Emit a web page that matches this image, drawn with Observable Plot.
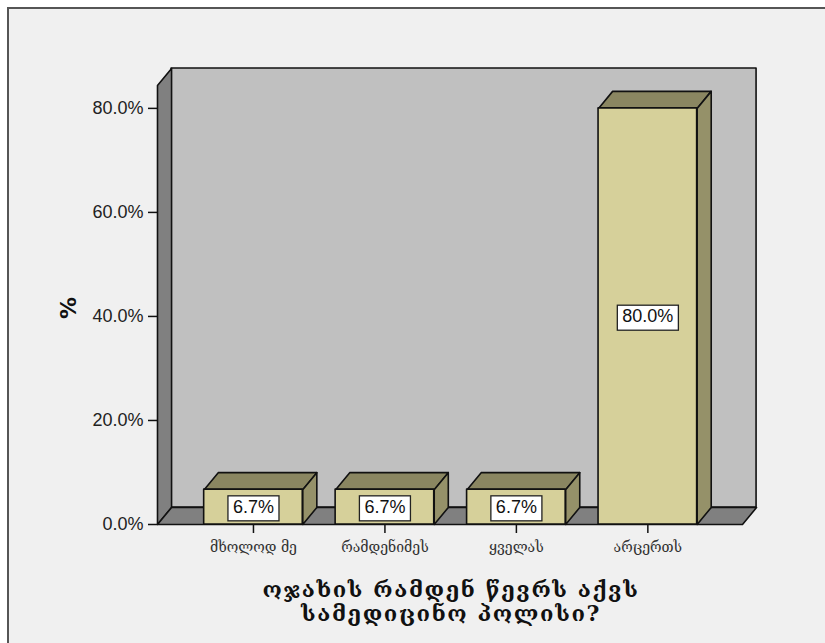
<!DOCTYPE html>
<html>
<head>
<meta charset="utf-8">
<script src="https://cdn.jsdelivr.net/npm/d3@7"></script>
<script src="https://cdn.jsdelivr.net/npm/@observablehq/plot@0.6"></script>
<style>
  html, body { margin: 0; padding: 0; background: #ffffff; }
  #wrap { position: relative; width: 825px; height: 643px; overflow: hidden; }
  #panel { position: absolute; left: 7px; top: 7px; width: 830px; height: 650px;
           background: #f0f0f0; border-left: 2px solid #555; border-top: 2px solid #555; box-sizing: border-box; }
  #chart { position: absolute; left: 0; top: 0; }
  g[aria-description="xtitle"] text { letter-spacing: 1.6px; }
</style>
</head>
<body>
<div id="wrap"><div id="panel"></div><div id="chart"></div></div>
<script>
// ---- data ----
const categories = ["მხოლოდ მე", "რამდენიმეს", "ყველას", "არცერთს"];
const percents = [6.7, 6.7, 6.7, 80.0];
const yTicks = [0, 20, 40, 60, 80];
const xTitle = "ოჯახის რამდენ წევრს აქვს\nსამედიცინო პოლისი?";
const yTitle = "%";

// ---- layout / style constants ----
const xDomain = [-0.73, 3.72];
const yMax = 84.4;
const halfW = 0.375;     // half bar width (category units)
const depX = 0.107;      // 3D depth in category units
const depY = 3.27;       // 3D depth in percent units
const colFront = "#d6d09a", colTop = "#8a8661", colSide = "#959169";
const colBack = "#c0c0c0", colWall = "#808080";

const bars = categories.map((c, i) => ({i, c, v: percents[i]}));
const x0 = xDomain[0], x1 = xDomain[1];

const poly = (id, pts) => pts.map(([x, y]) => ({id, x, y}));
const floor = poly("floor", [[x0, 0], [x0 + depX, depY], [x1 + depX, depY], [x1, 0]]);
const leftWall = poly("left", [[x0, 0], [x0, yMax], [x0 + depX, yMax + depY], [x0 + depX, depY]]);
const backWall = [{x1: x0 + depX, x2: x1 + depX, y1: depY, y2: yMax + depY}];
const tops = bars.flatMap(d => poly(d.i, [[d.i - halfW, d.v], [d.i - halfW + depX, d.v + depY], [d.i + halfW + depX, d.v + depY], [d.i + halfW, d.v]]));
const sides = bars.flatMap(d => poly(d.i, [[d.i + halfW, 0], [d.i + halfW, d.v], [d.i + halfW + depX, d.v + depY], [d.i + halfW + depX, depY]]));

const stroke = {stroke: "#111", strokeWidth: 1.6, strokeLinejoin: "round"};
const geoFont = "'DejaVu Serif', 'DejaVu Sans', serif";

const chart = Plot.plot({
  width: 825, height: 643,
  marginLeft: 157, marginRight: 83, marginTop: 85, marginBottom: 119,
  style: {background: "transparent", overflow: "visible", fontFamily: "'Liberation Sans', Arial, sans-serif"},
  x: {type: "linear", domain: xDomain},
  y: {type: "linear", domain: [0, yMax]},
  marks: [
    Plot.rect(backWall, {x1: "x1", x2: "x2", y1: "y1", y2: "y2", fill: colBack, ...stroke}),
    Plot.line(leftWall, {x: "x", y: "y", z: "id", fill: colWall, curve: "linear-closed", ...stroke}),
    Plot.line(floor, {x: "x", y: "y", z: "id", fill: colWall, curve: "linear-closed", ...stroke}),
    Plot.line(tops, {x: "x", y: "y", z: "id", fill: colTop, curve: "linear-closed", ...stroke}),
    Plot.line(sides, {x: "x", y: "y", z: "id", fill: colSide, curve: "linear-closed", ...stroke}),
    Plot.rect(bars, {x1: d => d.i - halfW, x2: d => d.i + halfW, y1: d => 0, y2: "v", fill: colFront, ...stroke}),
    Plot.axisY({ticks: yTicks, tickFormat: d => d.toFixed(1) + "%", tickSize: 9, tickPadding: 5,
                fontSize: 18, label: null, stroke: "#111", strokeWidth: 1.5, fill: "#222"}),
    Plot.axisX({ticks: [0, 1, 2, 3], tickFormat: i => categories[i], tickSize: 9, tickPadding: 9,
                fontSize: 14, fontFamily: geoFont, label: null,
                stroke: "#111", strokeWidth: 1.5, fill: "#333"}),
    Plot.text(bars, {x: "i", y: d => d.v / 2, text: d => d.v.toFixed(1) + "%", fontSize: 18,
                     fill: "#111", ariaDescription: "barlabels"}),
    Plot.text([xTitle], {frameAnchor: "bottom", lineAnchor: "top", dy: 56, dx: 1, text: d => d, fontSize: 22,
                         fontWeight: "bold", lineHeight: 1.08, fontFamily: geoFont, fill: "#111",
                         ariaDescription: "xtitle"}),
    Plot.text([yTitle], {frameAnchor: "left", dx: -89, dy: 14, rotate: -90, text: d => d, fontSize: 22,
                         fontWeight: "bold", fontFamily: "'DejaVu Sans', sans-serif", fill: "#111"})
  ]
});
document.getElementById("chart").appendChild(chart);

// white boxes behind the value labels
const g = chart.querySelector('g[aria-description="barlabels"]');
if (g) {
  g.querySelectorAll("text").forEach(t => {
    const b = t.getBBox();
    const r = document.createElementNS("http://www.w3.org/2000/svg", "rect");
    r.setAttribute("x", b.x - 5);
    r.setAttribute("y", b.y - 1);
    r.setAttribute("width", b.width + 10);
    r.setAttribute("height", b.height + 5);
    r.setAttribute("fill", "#ffffff");
    r.setAttribute("stroke", "#222");
    r.setAttribute("stroke-width", "1.3");
    const tr = t.getAttribute("transform");
    if (tr) r.setAttribute("transform", tr);
    g.insertBefore(r, t);
  });
}
</script>
</body>
</html>
